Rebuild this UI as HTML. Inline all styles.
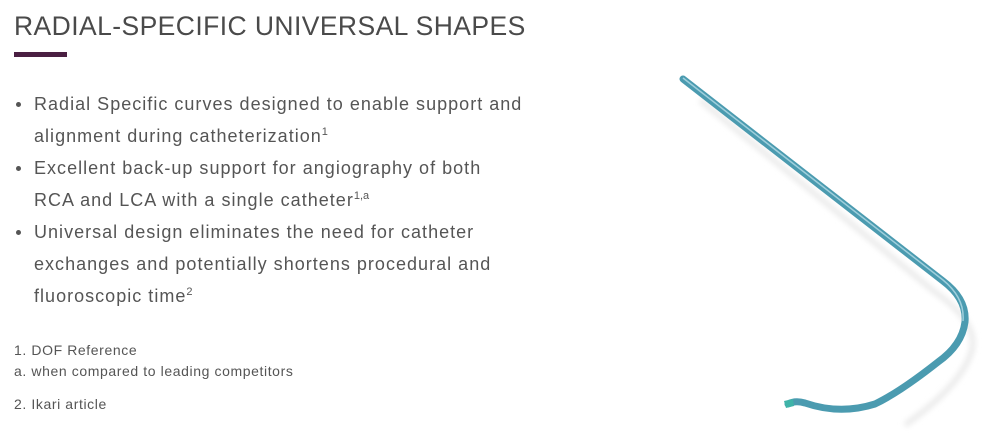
<!DOCTYPE html>
<html><head><meta charset="utf-8"><style>
body{margin:0;width:986px;height:435px;background:#fff;font-family:"Liberation Sans",Arial,sans-serif;color:#555;position:relative;overflow:hidden}
h1{position:absolute;left:14px;top:11px;margin:0;font-weight:normal;font-size:26.5px;color:#4a4a4a;letter-spacing:0.42px;white-space:nowrap}
.bar{position:absolute;left:14px;top:52px;width:53px;height:5px;background:#4a1f42}
ul{position:absolute;left:16px;top:88px;margin:0;padding:0;list-style:none;font-size:18px;line-height:32px;color:#555;letter-spacing:1.02px}
li{position:relative;padding-left:18px;white-space:nowrap}
li:before{content:"";position:absolute;left:0;top:14px;width:5px;height:5px;border-radius:50%;background:#555}
sup{font-size:11px;line-height:0;letter-spacing:0}
.f{position:absolute;left:14px;font-size:14px;color:#555;letter-spacing:0.6px;white-space:nowrap}
</style></head><body>
<h1>RADIAL-SPECIFIC UNIVERSAL SHAPES</h1>
<div class="bar"></div>
<ul>
<li>Radial Specific curves designed to enable support and<br>alignment during catheterization<sup>1</sup></li>
<li>Excellent back-up support for angiography of both<br>RCA and LCA with a single catheter<sup>1,a</sup></li>
<li>Universal design eliminates the need for catheter<br>exchanges and potentially shortens procedural and<br>fluoroscopic time<sup>2</sup></li>
</ul>
<div class="f" style="top:342px">1. DOF Reference</div>
<div class="f" style="top:363px">a. when compared to leading competitors</div>
<div class="f" style="top:396px">2. Ikari article</div>
<svg style="position:absolute;left:0;top:0" width="986" height="435">
<defs><filter id="b"><feGaussianBlur stdDeviation="3"/></filter></defs>
<path d="M700 100 L935 292 Q978 322 972 350 Q962 385 905 425" fill="none" stroke="#e8e8e8" stroke-width="5" filter="url(#b)"/>
<path d="M683 79 L943 281 Q967 299 965 322 Q962 345 938 362 Q900 392 875 404 Q840 415 805 403 Q795 400 788 404" fill="none" stroke="#4b9bb0" stroke-width="7" stroke-linecap="round"/>
<path d="M683 78 L943 280 Q965 298 963 321" fill="none" stroke="#9fcfdc" stroke-width="1.5"/>
<path d="M784 401 L793 399 L794 406 L786 408 Z" fill="#3fb3a8"/>
</svg>
</body></html>
